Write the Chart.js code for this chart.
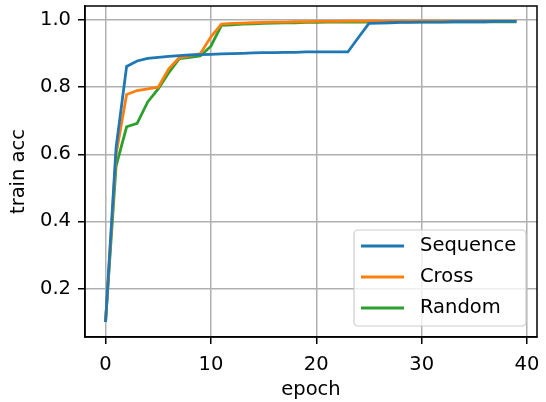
<!DOCTYPE html>
<html>
<head>
<meta charset="utf-8">
<script src="https://cdn.jsdelivr.net/npm/chart.js@4"></script>
<style>
  html, body { margin: 0; padding: 0; background: #fff; }
  #wrap { width: 546px; height: 402px; }
</style>
</head>
<body>
<div id="wrap"><canvas id="accChart" width="546" height="402"></canvas></div>
<script>
var epochs = [];
for (var i = 0; i < 40; i++) epochs.push(i);

var sequenceAcc = [0.100, 0.620, 0.862, 0.878, 0.886, 0.889, 0.892, 0.894, 0.896, 0.897,
                   0.898, 0.899, 0.900, 0.901, 0.902, 0.903, 0.903, 0.904, 0.904, 0.905,
                   0.905, 0.905, 0.905, 0.905, 0.948, 0.990, 0.991, 0.992, 0.993, 0.993,
                   0.994, 0.994, 0.994, 0.995, 0.995, 0.995, 0.995, 0.996, 0.996, 0.996];
var crossAcc = [0.100, 0.600, 0.778, 0.790, 0.795, 0.800, 0.855, 0.888, 0.893, 0.900,
                0.950, 0.988, 0.990, 0.991, 0.992, 0.993, 0.994, 0.994, 0.995, 0.995,
                0.996, 0.996, 0.996, 0.997, 0.997, 0.997, 0.997, 0.997, 0.997, 0.997,
                0.997, 0.997, 0.997, 0.997, 0.997, 0.997, 0.997, 0.997, 0.997, 0.997];
var randomAcc = [0.100, 0.565, 0.682, 0.692, 0.756, 0.795, 0.843, 0.885, 0.889, 0.893,
                 0.922, 0.984, 0.986, 0.988, 0.989, 0.990, 0.991, 0.992, 0.992, 0.993,
                 0.993, 0.994, 0.994, 0.994, 0.994, 0.994, 0.995, 0.995, 0.995, 0.995,
                 0.995, 0.995, 0.995, 0.995, 0.995, 0.995, 0.995, 0.995, 0.995, 0.995];

var xTicks = [0, 10, 20, 30, 40];
var yTicks = [0.2, 0.4, 0.6, 0.8, 1.0];

function points(vals) {
  return epochs.map(function (e, k) { return { x: e, y: vals[k] }; });
}

var font = { family: 'DejaVu Sans', size: 19.5 };

// matplotlib-like frame and legend box inside the axes
var frameLegend = {
  id: 'frameLegend',
  afterDatasetsDraw: function (chart) {
    var c = chart.ctx, a = chart.chartArea;
    c.save();
    c.strokeStyle = '#000';
    c.lineWidth = 1.5;
    c.strokeRect(a.left, a.top, a.right - a.left, a.bottom - a.top);

    var w = 172, h = 96;
    var bx = a.right - 11 - w, by = a.bottom - 11 - h;
    c.beginPath();
    c.roundRect(bx, by, w, h, 4);
    c.fillStyle = 'rgba(255,255,255,0.8)';
    c.fill();
    c.strokeStyle = '#cccccc';
    c.lineWidth = 1.2;
    c.stroke();

    c.font = font.size + 'px ' + font.family;
    c.textBaseline = 'middle';
    c.textAlign = 'left';
    chart.data.datasets.forEach(function (ds, k) {
      var y = by + 16 + k * 31;
      c.strokeStyle = ds.borderColor;
      c.lineWidth = 2.8;
      c.beginPath();
      c.moveTo(bx + 7, y);
      c.lineTo(bx + 50, y);
      c.stroke();
      c.fillStyle = '#000';
      c.fillText(ds.label, bx + 66, y);
    });
    c.restore();
  }
};

new Chart(document.getElementById('accChart'), {
  type: 'line',
  data: {
    datasets: [
      { label: 'Sequence', data: points(sequenceAcc), borderColor: '#1f77b4' },
      { label: 'Cross', data: points(crossAcc), borderColor: '#ff7f0e' },
      { label: 'Random', data: points(randomAcc), borderColor: '#2ca02c' }
    ]
  },
  options: {
    responsive: false,
    animation: false,
    layout: { padding: { left: 0, right: 9, top: 6, bottom: 0 } },
    elements: {
      line: { borderWidth: 2.8, tension: 0, fill: false },
      point: { radius: 0 }
    },
    plugins: { legend: { display: false }, tooltip: { enabled: false } },
    scales: {
      x: {
        type: 'linear',
        min: -1.95,
        max: 40.95,
        afterBuildTicks: function (s) { s.ticks = xTicks.map(function (v) { return { value: v }; }); },
        afterFit: function (s) { s.height = 65; s.paddingLeft = 0; s.paddingRight = 0; },
        grid: { color: '#b0b0b0', lineWidth: 1.5, tickColor: '#000', tickLength: 7 },
        border: { display: true, color: '#000', width: 1.5 },
        ticks: { color: '#000', font: font, padding: 9, maxRotation: 0 },
        title: { display: true, text: 'epoch', color: '#000', font: font, padding: { top: 0, bottom: 0 } }
      },
      y: {
        min: 0.0553,
        max: 1.042,
        afterBuildTicks: function (s) { s.ticks = yTicks.map(function (v) { return { value: v }; }); },
        afterFit: function (s) { s.width = 85; s.paddingTop = 0; s.paddingBottom = 0; },
        grid: { color: '#b0b0b0', lineWidth: 1.5, tickColor: '#000', tickLength: 7 },
        border: { display: true, color: '#000', width: 1.5 },
        ticks: { color: '#000', font: font, padding: 7, callback: function (v) { return v.toFixed(1); } },
        title: { display: true, text: 'train acc', color: '#000', font: font, padding: { top: 7, bottom: 0 } }
      }
    }
  },
  plugins: [frameLegend]
});
</script>
</body>
</html>
